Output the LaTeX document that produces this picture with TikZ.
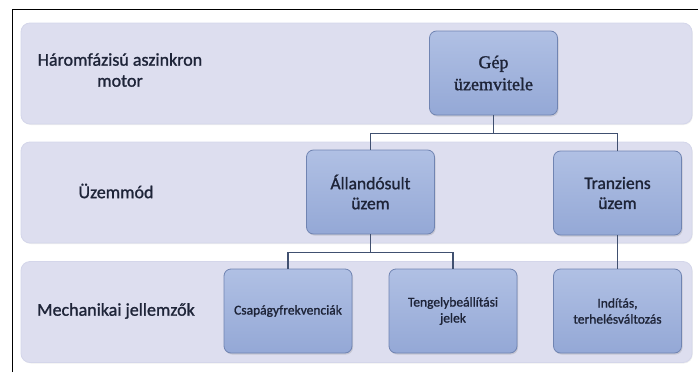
\documentclass[tikz,border=0pt]{standalone}
\usepackage{fontspec}
\setmainfont{Carlito}
\newfontfamily\labelfont{Carlito}[BoldFont=Carlito, BoldFeatures={FakeBold=1.2}]
\newfontfamily\gepfont{Liberation Serif}[BoldFont=Liberation Serif, BoldFeatures={FakeBold=1.4}]
\usepackage{xcolor}
\usetikzlibrary{positioning,calc,shadows}

\definecolor{bandfill}{RGB}{221,222,239}
\definecolor{bandedge}{RGB}{212,214,234}
\definecolor{boxtop}{RGB}{176,192,228}
\definecolor{boxbot}{RGB}{148,168,214}
\definecolor{boxedge}{RGB}{112,132,178}
\definecolor{connline}{RGB}{64,80,112}
\definecolor{textnavy}{RGB}{30,36,56}

\begin{document}
\begin{tikzpicture}[
    x=1pt,
    y=-1pt,
    band/.style={
        draw=bandedge,
        fill=bandfill,
        rounded corners=9pt,
        line width=0.8pt,
        minimum width=671pt,
        minimum height=101pt,
        drop shadow={opacity=0.12,shadow xshift=0.8pt,shadow yshift=-1pt}
    },
    rowlabel/.style={
        text=textnavy,
        align=center,
        font=\labelfont\fontsize{18}{21}\selectfont\bfseries
    },
    box/.style={
        draw=boxedge,
        top color=boxtop,
        bottom color=boxbot,
        rounded corners=7pt,
        line width=0.8pt,
        minimum width=128pt,
        minimum height=84pt,
        align=center,
        text=textnavy,
        drop shadow={opacity=0.25,shadow xshift=1pt,shadow yshift=-1.5pt},
        font=\labelfont\fontsize{17.5}{20}\selectfont\bfseries
    },
    small/.style={
        font=\labelfont\fontsize{13.5}{16}\selectfont\bfseries
    },
    conn/.style={draw=connline, line width=1.1pt}
]
\useasboundingbox (0,0) rectangle (698,372);

% frame
\draw[black, line width=1pt] (12.5,372) -- (12.5,9) -- (698,9);

% bands
\node[band] (band1) at (356.5,73.5) {};
\node[band] (band2) at (356.5,192.5) {};
\node[band] (band3) at (356.5,312) {};

% row labels
\node[rowlabel] (lmotor) at (120,70) {Háromfázisú aszinkron\\motor};
\node[rowlabel] (lmode) at (116,191) {Üzemmód};
\node[rowlabel] (lmech) at (116,311) {Mechanikai jellemzők};

% first row
\node[box, font=\gepfont\fontsize{18}{22}\selectfont\bfseries] (gep) at (493.5,73) {Gép\\üzemvitele};

% second row
\node[box] (allando) at (370.5,192) {Állandósult\\üzem};
\node[box] (tranziens) at (617.5,193) {Tranziens\\üzem};

% third row
\node[box, small] (csapagy) at (288,311) {Csapágyfrekvenciák};
\node[box, small] (tengely) at (453,311) {Tengelybeállítási\\jelek};
\node[box, small] (inditas) at (617.5,311) {Indítás,\\terhelésváltozás};

\draw[conn] (gep.south) -- ++(0,18) -| (allando.north);
\draw[conn] (gep.south) -- ++(0,18) -| (tranziens.north);
\draw[conn] (allando.south) -- ++(0,18) -| (csapagy.north);
\draw[conn] (allando.south) -- ++(0,18) -| (tengely.north);
\draw[conn] (tranziens.south) -- (inditas.north);

\end{tikzpicture}
\end{document}
